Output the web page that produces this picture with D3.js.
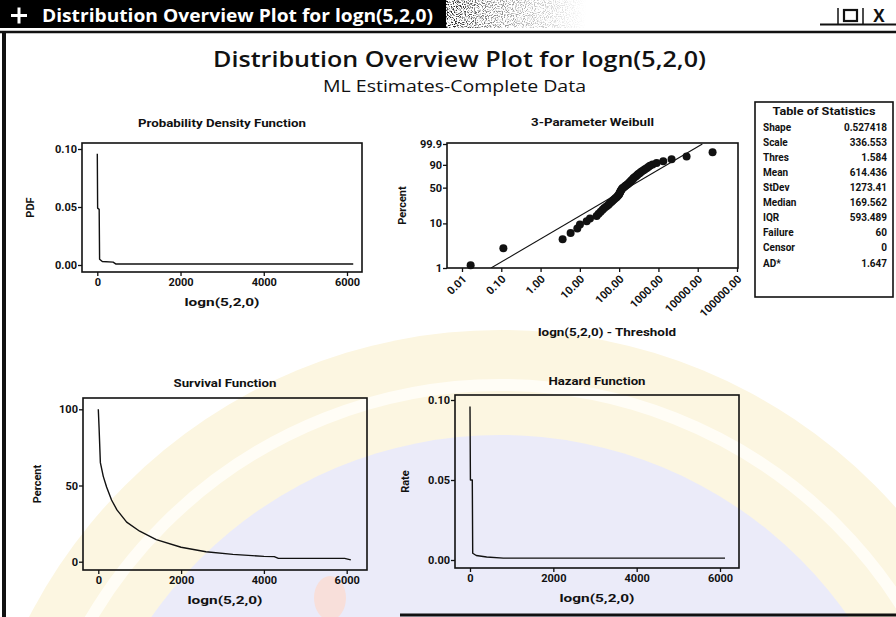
<!DOCTYPE html>
<html>
<head>
<meta charset="utf-8">
<script src="https://cdn.jsdelivr.net/npm/d3@7"></script>
<style>
  html, body { margin: 0; padding: 0; background: #fff; }
  svg { display: block; }
</style>
</head>
<body>
<svg id="chart" width="896" height="617"></svg>
<script>
// ---------------- data ----------------
// Probability density of the fitted distribution
const pdfX = [0, 8, 45, 55, 120, 380, 450, 6150];
const pdfY = [0.096, 0.049, 0.048, 0.005, 0.0030, 0.0025, 0.0008, 0.0008];

// Survival function (percent)
const survX = [0, 20, 50, 120, 200, 320, 450, 685, 1000, 1400, 2000, 2600, 3250, 4000, 4250, 4350, 5950, 6100];
const survY = [100, 87, 65, 56, 49, 40.5, 34, 26, 20, 14.5, 9.5, 6.5, 4.8, 3.5, 3.3, 2.2, 2.2, 1.2];

// Hazard function (rate)
const hazX = [0, 10, 55, 65, 150, 400, 800, 6120];
const hazY = [0.096, 0.050, 0.050, 0.0042, 0.0028, 0.0019, 0.0012, 0.0012];

// Probability plot: observations minus threshold, and their plotting percentages
const weibullTime = [0.0166, 0.113, 3.64, 5.82, 8.61, 10.06, 14.9, 18.1, 26.7, 30.0,
  33.8, 37.9, 41.9, 47.1, 52.9, 57.2, 63.1, 68.2, 73.8, 79.8,
  86.2, 91.4, 97.0, 100.8, 102.8, 106.9, 109.0, 113.3, 117.8, 122.5,
  132.5, 140.5, 148.9, 161.1, 170.8, 181.1, 188.2, 199.5, 207.6, 220.2,
  228.9, 238.1, 257.3, 272.9, 289.3, 306.8, 331.7, 351.9, 380.4, 419.4,
  453.2, 499.8, 551.0, 608.2, 710.8, 898.6, 1327, 2163, 5212, 23890];
const weibullPct = [1.16, 2.81, 4.47, 6.13, 7.78, 9.44, 11.09, 12.75, 14.40, 16.06,
  17.72, 19.37, 21.03, 22.68, 24.34, 25.99, 27.65, 29.30, 30.96, 32.62,
  34.27, 35.93, 37.58, 39.24, 40.89, 42.55, 44.21, 45.86, 47.52, 49.17,
  50.83, 52.48, 54.14, 55.79, 57.45, 59.11, 60.76, 62.42, 64.07, 65.73,
  67.38, 69.04, 70.70, 72.35, 74.01, 75.66, 77.32, 78.97, 80.63, 82.28,
  83.94, 85.60, 87.25, 88.91, 90.56, 92.22, 93.87, 95.53, 97.19, 98.84];
const fitPct = [1, 99.9];

// Tick values
const timeTicks = [0, 2000, 4000, 6000];
const densityTicks = [0, 0.05, 0.10];
const percentTicks = [0, 50, 100];
const weibullXTicks = [0.01, 0.1, 1, 10, 100, 1000, 10000, 100000];
const weibullYTicks = [1, 10, 50, 90, 99.9];

// Table of statistics
const statLabels = ["Shape", "Scale", "Thres", "Mean", "StDev", "Median", "IQR", "Failure", "Censor", "AD*"];
const statValues = ["0.527418", "336.553", "1.584", "614.436", "1273.41", "169.562", "593.489", "60", "0", "1.647"];

// ---------------- drawing ----------------
const svg = d3.select("#chart");
const ink = "#111";
const bigFont = "'Open Sans', 'Noto Sans', sans-serif";
const smallFont = "Roboto, 'Open Sans', sans-serif";

const defs = svg.append("defs");

// faint seal printed on the paper behind the lower plots
const wm = svg.append("g").attr("class", "watermark");
wm.append("circle").attr("cx", 500).attr("cy", 860).attr("r", 530)
  .attr("fill", "#fcf6e1");
wm.append("circle").attr("cx", 500).attr("cy", 860).attr("r", 475)
  .attr("fill", "none").attr("stroke", "#fffdf6").attr("stroke-width", 12);
wm.append("circle").attr("cx", 500).attr("cy", 860).attr("r", 425)
  .attr("fill", "#ebebf9");
wm.append("ellipse").attr("cx", 330).attr("cy", 598).attr("rx", 16).attr("ry", 22)
  .attr("fill", "#f8dfda");

// ---- window chrome ----
const grain = defs.append("filter").attr("id", "grain")
  .attr("x", 0).attr("y", 0).attr("width", 1).attr("height", 1);
grain.append("feTurbulence").attr("type", "fractalNoise").attr("baseFrequency", 0.9)
  .attr("numOctaves", 2).attr("seed", 7).attr("result", "noise");
grain.append("feColorMatrix").attr("in", "noise").attr("type", "matrix")
  .attr("values", "0 0 0 0 0  0 0 0 0 0  0 0 0 0 0  0 0 0 -5 2.6").attr("result", "mask");
grain.append("feComposite").attr("in", "SourceGraphic").attr("in2", "mask").attr("operator", "in");

const fade = defs.append("linearGradient").attr("id", "fade").attr("x1", 0).attr("x2", 1);
fade.append("stop").attr("offset", 0).attr("stop-color", "#000").attr("stop-opacity", 0.9);
fade.append("stop").attr("offset", 0.35).attr("stop-color", "#000").attr("stop-opacity", 0.45);
fade.append("stop").attr("offset", 1).attr("stop-color", "#000").attr("stop-opacity", 0);

svg.append("rect").attr("x", 0).attr("y", 0).attr("width", 446).attr("height", 28).attr("fill", "#000");
svg.append("rect").attr("x", 446).attr("y", 0).attr("width", 140).attr("height", 28)
  .attr("fill", "url(#fade)").attr("filter", "url(#grain)");

svg.append("path").attr("d", "M11,15.5H27M19,7.5V23.5")
  .attr("stroke", "#fff").attr("stroke-width", 3).attr("fill", "none");
svg.append("text").attr("x", 42).attr("y", 22)
  .attr("font-family", bigFont).attr("font-size", 18).attr("font-weight", "bold")
  .attr("fill", "#fff").attr("textLength", 391).attr("lengthAdjust", "spacingAndGlyphs")
  .text("Distribution Overview Plot for logn(5,2,0)");

// minimize / maximize / close
const btn = svg.append("g").attr("stroke", ink).attr("fill", "none");
btn.append("line").attr("x1", 820).attr("x2", 896).attr("y1", 24.5).attr("y2", 24.5).attr("stroke-width", 2);
btn.append("line").attr("x1", 838).attr("x2", 838).attr("y1", 8).attr("y2", 24).attr("stroke-width", 1.5);
btn.append("line").attr("x1", 863).attr("x2", 863).attr("y1", 8).attr("y2", 24).attr("stroke-width", 1.5);
btn.append("rect").attr("x", 844).attr("y", 10).attr("width", 13).attr("height", 11).attr("stroke-width", 2.2);
svg.append("text").attr("x", 879).attr("y", 22).attr("text-anchor", "middle")
  .attr("font-family", bigFont).attr("font-size", 17).attr("font-weight", "bold").attr("fill", ink).text("X");

svg.append("line").attr("x1", 0).attr("x2", 896).attr("y1", 32).attr("y2", 32)
  .attr("stroke", ink).attr("stroke-width", 2.5);
svg.append("line").attr("x1", 4).attr("x2", 4).attr("y1", 31).attr("y2", 617)
  .attr("stroke", ink).attr("stroke-width", 4);
svg.append("line").attr("x1", 400).attr("x2", 896).attr("y1", 615).attr("y2", 615)
  .attr("stroke", ink).attr("stroke-width", 3);

// ---- titles ----
svg.append("text").attr("x", 213).attr("y", 67)
  .attr("font-family", bigFont).attr("font-size", 22).attr("font-weight", 600).attr("fill", ink)
  .attr("textLength", 493).attr("lengthAdjust", "spacingAndGlyphs")
  .text("Distribution Overview Plot for logn(5,2,0)");
svg.append("text").attr("x", 323).attr("y", 92)
  .attr("font-family", bigFont).attr("font-size", 17).attr("fill", ink)
  .attr("textLength", 263).attr("lengthAdjust", "spacingAndGlyphs")
  .text("ML Estimates-Complete Data");

// ---- helpers ----
function styleAxis(g) {
  g.attr("font-family", smallFont).attr("font-size", 11).attr("font-weight", "bold");
  g.select(".domain").remove();
  g.selectAll(".tick line").attr("stroke", ink).attr("stroke-width", 1.3);
  g.selectAll(".tick text").attr("fill", ink);
}

function panelText(x, y, str, opts = {}) {
  const t = svg.append("text").attr("x", x).attr("y", y)
    .attr("text-anchor", "middle").attr("dy", "0.35em")
    .attr("font-family", smallFont).attr("font-size", opts.size || 10)
    .attr("font-weight", "bold").attr("fill", ink).text(str);
  if (opts.width) t.attr("textLength", opts.width).attr("lengthAdjust", "spacingAndGlyphs");
  if (opts.rotate) t.attr("transform", `rotate(-90,${x},${y})`);
  return t;
}

function box(b) {
  svg.append("rect").attr("x", b.x0).attr("y", b.y0)
    .attr("width", b.x1 - b.x0).attr("height", b.y1 - b.y0)
    .attr("fill", "none").attr("stroke", ink).attr("stroke-width", 1.6);
}

function linearPanel(p) {
  const x = d3.scaleLinear().domain([0, 6000]).range(p.xr);
  const y = d3.scaleLinear().domain([p.yTicks[0], p.yTicks[2]]).range(p.yr);
  const b = p.box;

  svg.append("path")
    .datum(p.xs.map((v, i) => [v, p.ys[i]]))
    .attr("fill", "none").attr("stroke", ink).attr("stroke-width", 1.4)
    .attr("stroke-linejoin", "round")
    .attr("d", d3.line().x(d => x(d[0])).y(d => y(d[1])));

  box(b);

  svg.append("g").attr("transform", `translate(0,${b.y1})`)
    .call(d3.axisBottom(x).tickValues(timeTicks).tickSize(4).tickPadding(2).tickFormat(d3.format("d")))
    .call(styleAxis);
  svg.append("g").attr("transform", `translate(${b.x0},0)`)
    .call(d3.axisLeft(y).tickValues(p.yTicks).tickSize(4).tickPadding(1).tickFormat(p.yFmt))
    .call(styleAxis);

  panelText((b.x0 + b.x1) / 2, p.titleY, p.title, { width: p.titleW });
  panelText((b.x0 + b.x1) / 2, b.y1 + 30, "logn(5,2,0)", { width: 75, size: 11 });
  panelText(p.ylabX, (b.y0 + b.y1) / 2, p.ylab, { rotate: true, size: 11 });
}

// ---- Probability Density Function ----
linearPanel({
  box: { x0: 82, x1: 362, y0: 143, y1: 272 },
  xr: [97.3, 347], yr: [265, 149],
  xs: pdfX, ys: pdfY, yTicks: densityTicks, yFmt: d3.format(".2f"),
  title: "Probability Density Function", titleY: 123, titleW: 168,
  ylab: "PDF", ylabX: 30
});

// ---- Survival Function ----
linearPanel({
  box: { x0: 83, x1: 367, y0: 398, y1: 570 },
  xr: [98.3, 346.7], yr: [561.7, 409.3],
  xs: survX, ys: survY, yTicks: percentTicks, yFmt: d3.format("d"),
  title: "Survival Function", titleY: 383, titleW: 103,
  ylab: "Percent", ylabX: 37
});

// ---- Hazard Function ----
linearPanel({
  box: { x0: 455, x1: 739, y0: 395, y1: 568 },
  xr: [470, 720], yr: [560, 400],
  xs: hazX, ys: hazY, yTicks: densityTicks, yFmt: d3.format(".2f"),
  title: "Hazard Function", titleY: 381, titleW: 97,
  ylab: "Rate", ylabX: 405
});

// ---- 3-Parameter Weibull probability plot ----
{
  const b = { x0: 447, x1: 738, y0: 143, y1: 268 };
  const x = d3.scaleLog().domain([0.01, 100000]).range([462, 737]);
  const wt = p => Math.log(-Math.log(1 - p / 100));
  const wLin = d3.scaleLinear().domain([wt(1), wt(99.9)]).range([268, 144]);
  const y = p => wLin(wt(p));
  y.range = () => wLin.range();
  y.domain = () => [1, 99.9];
  y.copy = () => y;

  defs.append("clipPath").attr("id", "wclip").append("rect")
    .attr("x", b.x0).attr("y", b.y0).attr("width", b.x1 - b.x0).attr("height", b.y1 - b.y0);

  // fitted line from the estimated shape and scale
  const shape = +statValues[0], scale = +statValues[1];
  const fit = fitPct.map(p => [scale * Math.pow(-Math.log(1 - p / 100), 1 / shape), p]);
  svg.append("path").datum(fit)
    .attr("clip-path", "url(#wclip)")
    .attr("fill", "none").attr("stroke", ink).attr("stroke-width", 1.1)
    .attr("d", d3.line().x(d => x(d[0])).y(d => y(d[1])));

  svg.append("g").selectAll("circle")
    .data(weibullTime.map((t, i) => [t, weibullPct[i]]))
    .join("circle")
    .attr("cx", d => x(d[0])).attr("cy", d => y(d[1]))
    .attr("r", 4).attr("fill", ink);

  box(b);

  const gx = svg.append("g").attr("transform", `translate(0,${b.y1})`)
    .call(d3.axisBottom(x).tickValues(weibullXTicks).tickSize(4).tickFormat(d3.format(".2f")))
    .call(styleAxis);
  gx.selectAll(".tick text")
    .attr("x", 0).attr("y", 0).attr("dy", "0.35em")
    .attr("text-anchor", "end")
    .attr("transform", "translate(2,9) rotate(-45)");

  svg.append("g").attr("transform", `translate(${b.x0},0)`)
    .call(d3.axisLeft(y).tickValues(weibullYTicks).tickSize(4).tickPadding(1).tickFormat(d => String(d)))
    .call(styleAxis);

  panelText((b.x0 + b.x1) / 2, 122, "3-Parameter Weibull", { width: 123 });
  panelText(607, 332, "logn(5,2,0) - Threshold", { width: 138, size: 11 });
  panelText(402, (b.y0 + b.y1) / 2, "Percent", { rotate: true, size: 11 });
}

// ---- Table of Statistics ----
{
  const t = { x0: 755, y0: 102, w: 138, h: 195 };
  svg.append("rect").attr("x", t.x0).attr("y", t.y0).attr("width", t.w).attr("height", t.h)
    .attr("fill", "#fff").attr("stroke", ink).attr("stroke-width", 1.6);
  panelText(t.x0 + t.w / 2, 111, "Table of Statistics", { width: 103 });
  const row = d3.scaleLinear().domain([0, statLabels.length - 1]).range([127, 263]);
  const g = svg.append("g").attr("font-family", smallFont).attr("font-size", 10)
    .attr("font-weight", "bold").attr("fill", ink);
  g.selectAll("text.lab").data(statLabels).join("text").attr("class", "lab")
    .attr("x", 763).attr("y", (d, i) => row(i)).attr("dy", "0.35em").text(d => d);
  g.selectAll("text.val").data(statValues).join("text").attr("class", "val")
    .attr("x", 887).attr("y", (d, i) => row(i)).attr("dy", "0.35em")
    .attr("text-anchor", "end").text(d => d);
}
</script>
</body>
</html>
